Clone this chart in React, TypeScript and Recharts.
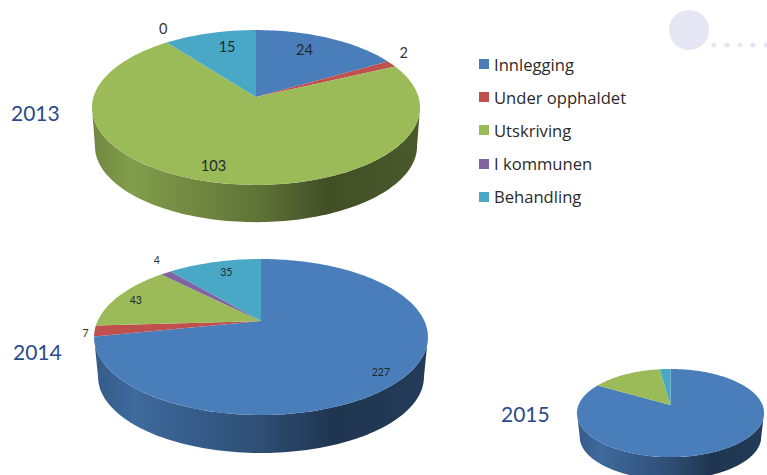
import React from 'react';
import { PieChart, Pie, Legend } from 'recharts';

const CATEGORIES = ['Innlegging', 'Under opphaldet', 'Utskriving', 'I kommunen', 'Behandling'];
const COLORS = ['#4a7ebb', '#c0504d', '#9bbb59', '#8064a2', '#48a8c6'];
const VALUES_2013 = [24, 2, 103, 0, 15];
const VALUES_2014 = [227, 7, 43, 4, 35];
const VALUES_2015 = [150, 0, 26, 0, 4];
const DECOR_DOTS = [0, 1, 2, 3, 4];

type Geom = { cx: number; cy: number; B: number; A: number; p: number; d: number; k: number; halfW: number };

const G13: Geom = { cx: 256, cy: 97, B: 162.5, A: 76, p: 0.1355, d: 38.8, k: 0.982, halfW: 164 };
const G14: Geom = { cx: 261, cy: 321, B: 163.4, A: 74.7, p: 0.205, d: 40.3, k: 0.976, halfW: 167 };
const G15: Geom = { cx: 670.5, cy: 405, B: 92, A: 42.6, p: 0.182, d: 24, k: 0.97, halfW: 93.5 };

const NUDGE_13 = [[-11, 1], [38, -18], [-8, 2], [-20, -24], [9, 2]];
const NUDGE_14 = [[7, 9], [-43, 4], [-10, -1], [-26, -21], [4, 0]];

const RAD = Math.PI / 180;

function project(g: Geom, deg: number, f = 1) {
  const x = f * Math.cos(deg * RAD);
  const y = f * Math.sin(deg * RAD);
  const w = 1 + g.p * y;
  return { X: (g.B * x) / w, Y: (-g.A * y) / w };
}
const topPt = (g: Geom, deg: number) => {
  const q = project(g, deg);
  return `${(g.cx + q.X).toFixed(2)} ${(g.cy + q.Y).toFixed(2)}`;
};
const lowPt = (g: Geom, deg: number) => {
  const q = project(g, deg);
  return `${(g.cx + q.X * g.k).toFixed(2)} ${(g.cy + q.Y * g.k + g.d).toFixed(2)}`;
};
function arcAngles(from: number, to: number) {
  const out: number[] = [];
  const n = Math.max(1, Math.ceil(Math.abs(from - to) / 1.5));
  for (let i = 0; i <= n; i++) out.push(from + ((to - from) * i) / n);
  return out;
}
function shade(hex: string, m: number) {
  const v = parseInt(hex.slice(1), 16);
  const c = [(v >> 16) & 255, (v >> 8) & 255, v & 255].map((u) => Math.round(u * m));
  return `rgb(${c[0]},${c[1]},${c[2]})`;
}

const TopFace = (g: Geom) => (s: any) => {
  const pts = arcAngles(s.startAngle, s.endAngle).map((a) => topPt(g, a));
  return <path d={`M${g.cx} ${g.cy}L${pts.join('L')}Z`} fill={s.fill} stroke="none" />;
};

const SHADE_STOPS = [[0, 0.72], [0.12, 0.84], [0.5, 0.62], [0.72, 0.42], [1, 0.48]];

const SideFace = (g: Geom, tag: string) => (s: any) => {
  const e = Math.asin(g.p) / RAD;
  const hi = Math.min(s.startAngle, -e);
  const lo = Math.max(s.endAngle, -180 + e);
  if (hi <= lo) return <g />;
  const upper = arcAngles(hi, lo).map((a) => topPt(g, a));
  const lower = arcAngles(lo, hi).map((a) => lowPt(g, a));
  const id = `side-${tag}-${s.fill.slice(1)}`;
  return (
    <g>
      <defs>
        <linearGradient id={id} gradientUnits="userSpaceOnUse" x1={g.cx - g.halfW} x2={g.cx + g.halfW} y1={0} y2={0}>
          {SHADE_STOPS.map(([o, m]) => (
            <stop key={o} offset={o} stopColor={shade(s.fill, m)} />
          ))}
        </linearGradient>
      </defs>
      <path d={`M${upper.join('L')}L${lower.join('L')}Z`} fill={`url(#${id})`} stroke="none" />
    </g>
  );
};

const sliceLabel = (g: Geom, nudge: number[][], size: number) => (s: any) => {
  const q = project(g, s.midAngle, 0.8);
  const n = nudge[s.index];
  const outside = n[0] * n[0] + n[1] * n[1] > 500;
  return (
    <text
      x={g.cx + q.X + n[0]}
      y={g.cy + q.Y + n[1]}
      textAnchor="middle"
      dominantBaseline="central"
      fontFamily="Lato"
      fontSize={size}
      fill={outside ? '#333333' : '#1c2b30'}
    >
      {s.value}
    </text>
  );
};

const tableOf = (vals: number[]) =>
  CATEGORIES.map((name, i) => ({ name, value: vals[i], fill: COLORS[i] }));

const YEARS = [
  { label: '2013', x: 11, y: 112 },
  { label: '2014', x: 13, y: 351 },
  { label: '2015', x: 501, y: 413 },
];

const LegendBox = () => (
  <div>
    {CATEGORIES.map((c, i) => (
      <div key={c} style={{ display: 'flex', alignItems: 'center', height: 33.2 }}>
        <span style={{ width: 10, height: 10, background: COLORS[i], marginRight: 5 }} />
        <span style={{ fontFamily: 'Open Sans', fontSize: 16.6, color: '#2a2a2a', whiteSpace: 'nowrap' }}>{c}</span>
      </div>
    ))}
  </div>
);

const common = {
  dataKey: 'value',
  startAngle: 90,
  endAngle: -270,
  stroke: 'none',
  isAnimationActive: false,
  labelLine: false,
};

export default function App() {
  return (
    <div style={{ position: 'fixed', left: 0, top: 0, width: 767, height: 475, background: '#fff', overflow: 'hidden' }}>
      <PieChart width={767} height={475} margin={{ top: 0, right: 0, bottom: 0, left: 0 }}>
        <circle cx={689} cy={30} r={20} fill="#e4e7f3" />
        {DECOR_DOTS.map((i) => (
          <circle key={i} cx={714 + i * 13} cy={45} r={2.5} fill="#e4e7f3" />
        ))}
        <Pie {...common} data={tableOf(VALUES_2013)} cx={G13.cx} cy={G13.cy} outerRadius={G13.B} shape={SideFace(G13, 'a')} label={false} />
        <Pie {...common} data={tableOf(VALUES_2013)} cx={G13.cx} cy={G13.cy} outerRadius={G13.B} shape={TopFace(G13)} label={sliceLabel(G13, NUDGE_13, 14.5)} />
        <Pie {...common} data={tableOf(VALUES_2014)} cx={G14.cx} cy={G14.cy} outerRadius={G14.B} shape={SideFace(G14, 'b')} label={false} />
        <Pie {...common} data={tableOf(VALUES_2014)} cx={G14.cx} cy={G14.cy} outerRadius={G14.B} shape={TopFace(G14)} label={sliceLabel(G14, NUDGE_14, 10.5)} />
        <Pie {...common} data={tableOf(VALUES_2015)} cx={G15.cx} cy={G15.cy} outerRadius={G15.B} shape={SideFace(G15, 'c')} label={false} />
        <Pie {...common} data={tableOf(VALUES_2015)} cx={G15.cx} cy={G15.cy} outerRadius={G15.B} shape={TopFace(G15)} label={false} />
        {YEARS.map((y) => (
          <text key={y.label} x={y.x} y={y.y} dominantBaseline="central" fontFamily="Lato" fontSize={21} fill="#2b4c8c">
            {y.label}
          </text>
        ))}
        <Legend
          content={<LegendBox />}
          layout="vertical"
          align="right"
          verticalAlign="top"
          wrapperStyle={{ left: 479, top: 47.5, right: 'auto', width: 200 }}
        />
      </PieChart>
    </div>
  );
}
